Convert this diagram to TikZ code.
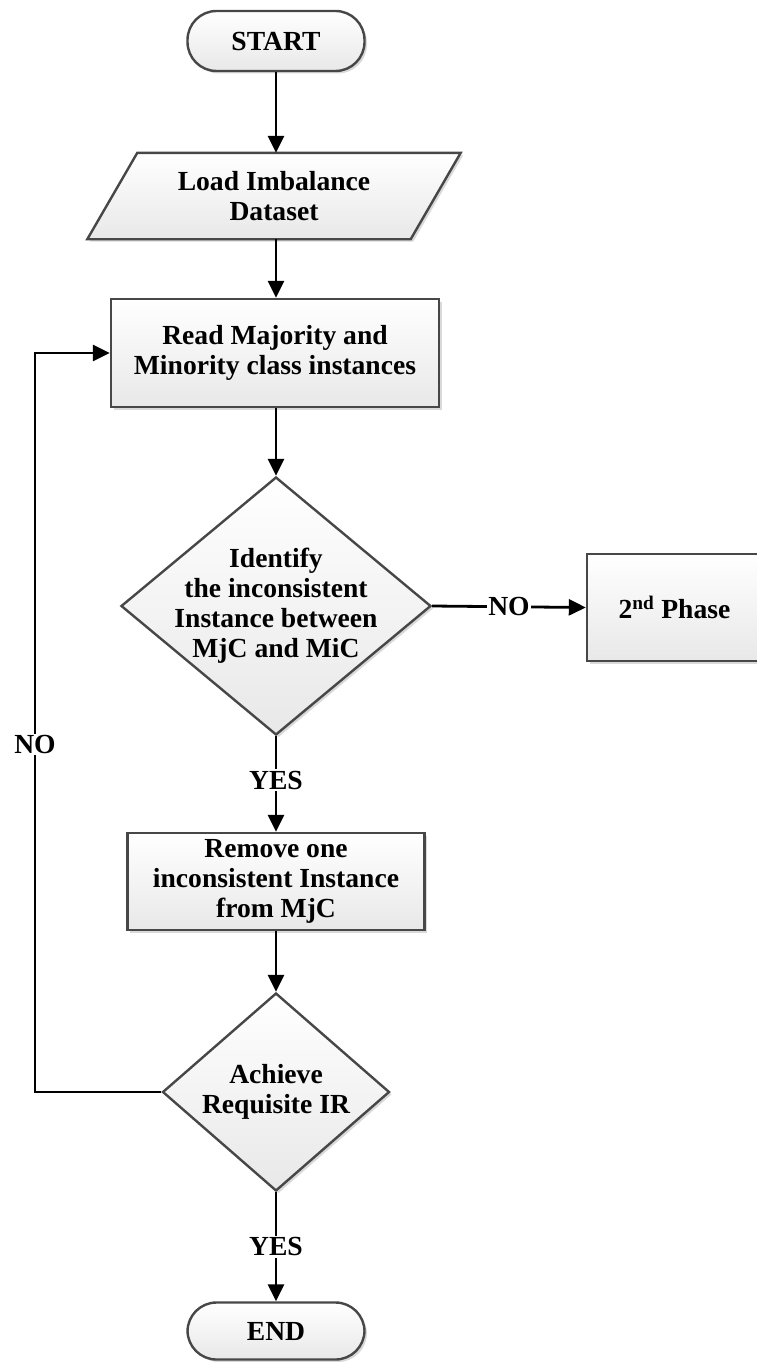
\documentclass[tikz,border=0pt]{standalone}
\usepackage{fontspec}
\setmainfont{Liberation Serif}
\usetikzlibrary{arrows.meta,shapes.geometric,shadows,backgrounds}

\tikzset{
  base/.style={draw=black!72, line width=2.4pt, top color=white, bottom color=black!9,
    drop shadow={shadow xshift=2.5pt, shadow yshift=-2.5pt, fill=black, opacity=0.15}},
  txt/.style={font=\bfseries\fontsize{27.6}{30}\selectfont, align=center, text=black},
  term/.style={base, txt, rectangle, rounded corners=29pt, minimum width=177pt, minimum height=60pt},
  proc/.style={base, txt, rectangle, inner sep=0pt},
  decision/.style={base, diamond, inner sep=0pt},
  flow/.style={draw=black, line width=2.8pt, -{Triangle[length=17pt,width=16pt]}},
  lbl/.style={txt, fill=white, inner sep=1.5pt},
}

\begin{document}
\begin{tikzpicture}[x=1pt, y=-1pt]
  \useasboundingbox (0,0) rectangle (756,1362);

  % terminals, steps and decisions
  \node[term] (start) at (276,41) {START};

  \node[txt, minimum width=373pt, minimum height=86pt, inner sep=0pt] (load) at (274,196)
    {Load Imbalance\\Dataset};
  \begin{scope}[on background layer]
    \path[base] ([xshift=50pt]load.north west) -- (load.north east)
      -- ([xshift=-50pt]load.south east) -- (load.south west) -- cycle;
  \end{scope}

  \node[proc, minimum width=328pt, minimum height=108pt] (read) at (275,353)
    {Read Majority and\\Minority class instances};

  \node[decision, minimum width=310pt, minimum height=258pt] (d1) at (276,606) {};
  \node[txt] (d1text) at (d1) {Identify\\the inconsistent\\Instance between\\MjC and MiC};

  \node[proc, minimum width=175pt, minimum height=107pt] (phase) at (674.5,607.5)
    {2\textsuperscript{nd} Phase};

  \node[proc, minimum width=297pt, minimum height=97pt] (remove) at (276,881.5)
    {Remove one\\inconsistent Instance\\from MjC};

  \node[decision, minimum width=227pt, minimum height=198pt] (d2) at (276,1092) {};
  \node[txt] (d2text) at (d2) {Achieve\\Requisite IR};

  \node[term, minimum height=57pt] (end) at (276,1331) {END};

  % x position of the return line
  \coordinate (loopx) at (35,0);

  % connectors
  \draw[flow] (start.south) -- (start.south |- load.north);
  \draw[flow] (start.south |- load.south) -- (start.south |- read.north);
  \draw[flow] (read.south -| d1.north) -- (d1.north);
  \draw[flow] (d1.east) -- node[lbl] {NO} (phase.west);
  \draw[flow] (d1.south) -- node[lbl, pos=0.46] {YES} (d1.south |- remove.north);
  \draw[flow] (d1.south |- remove.south) -- (d2.north);
  \draw[flow] (d2.south) -- node[lbl, pos=0.5] {YES} (end.north);
  \draw[flow] (d2.west) -- (d2.west -| loopx)
    -- node[lbl, pos=0.47] {NO} (read.west -| loopx) -- (read.west);
\end{tikzpicture}
\end{document}
